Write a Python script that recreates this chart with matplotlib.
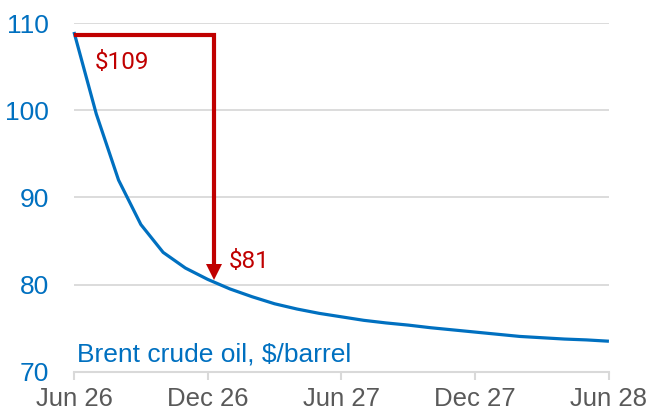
import matplotlib
matplotlib.use("Agg")
import matplotlib.pyplot as plt

months = list(range(25))
brent = [109.0, 99.6, 92.0, 86.9, 83.7, 81.9, 80.6, 79.5, 78.6, 77.8, 77.2, 76.7,
         76.3, 75.9, 75.6, 75.35, 75.05, 74.8, 74.55, 74.3, 74.05, 73.9, 73.75, 73.65, 73.5]
xtick_pos = [0, 6, 12, 18, 24]
xtick_labels = ["Jun 26", "Dec 26", "Jun 27", "Dec 27", "Jun 28"]
yticks = [70, 80, 90, 100, 110]
start_price = 108.6
end_price = 80.6
arrow_x = 6.3

BLUE = "#0070C0"
RED = "#C00000"
GRID = "#D9D9D9"

plt.rcParams['font.family'] = ['Liberation Sans', 'DejaVu Sans']

fig = plt.figure(figsize=(6.5, 4.17), dpi=100)
ax = fig.add_axes([0.1138, 0.1086, 0.823, 0.8356])

ax.set_xlim(0, 24)
ax.set_ylim(70, 110)
ax.set_yticks(yticks)
ax.set_xticks(xtick_pos)
ax.set_xticklabels(xtick_labels)

for y in yticks[1:]:
    ax.axhline(y, color=GRID, lw=1.3, zorder=0)

for s in ["top", "right", "left"]:
    ax.spines[s].set_visible(False)
ax.spines["bottom"].set_color(GRID)
ax.spines["bottom"].set_linewidth(1.5)

ax.tick_params(axis="y", length=0, pad=18, labelsize=19, labelcolor=BLUE)
ax.tick_params(axis="x", length=6, width=1.5, color=GRID, pad=5, labelsize=18.5, labelcolor="#595959")

ax.plot(months, brent, color=BLUE, lw=2.3, zorder=3, clip_on=False, solid_capstyle="butt")

# red bracket with arrow head (triangle marker at the end)
head_ms = 11.5
head_center = end_price + 0.86
ax.plot([0.07, arrow_x, arrow_x], [start_price, start_price, head_center], color=RED, lw=3,
        solid_joinstyle="miter", zorder=4, clip_on=False)
ax.plot([arrow_x], [head_center], marker="v", ms=head_ms, color=RED, mew=0, zorder=4)

ax.text(0.95, 105.5, "$109", color=RED, fontsize=17.5, family=["Roboto", "DejaVu Sans"],
        ha="left", va="center")
ax.text(6.95, 82.7, "$81", color=RED, fontsize=17.5, family=["Roboto", "DejaVu Sans"],
        ha="left", va="center")
ax.text(0.15, 72.0, "Brent crude oil, $/barrel", color=BLUE, fontsize=19,
        ha="left", va="center")

fig.savefig("out.png", dpi=100)
